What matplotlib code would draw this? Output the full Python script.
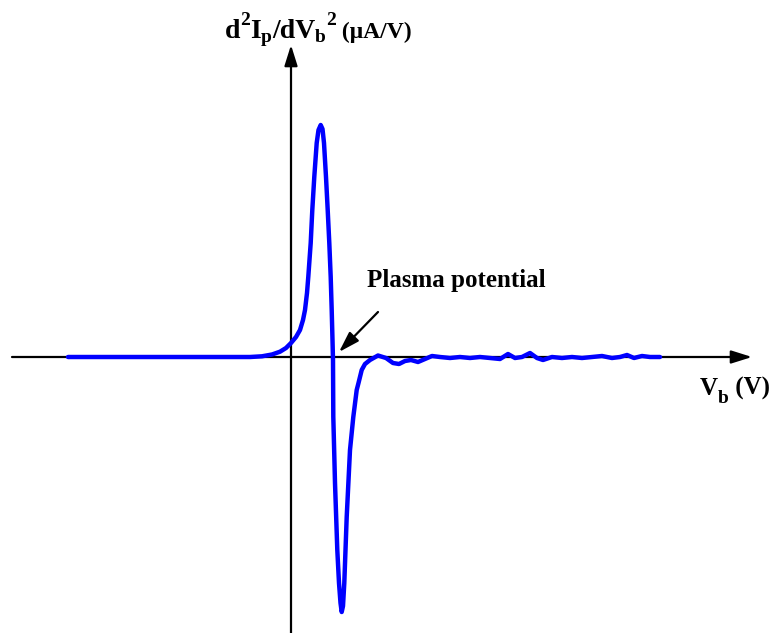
import numpy as np
import matplotlib
matplotlib.use('Agg')
import matplotlib.pyplot as plt
from matplotlib.transforms import IdentityTransform

# Second-derivative probe curve (arbitrary units)
vb = [-11.15, -7.05, -3.55, -2.05, -1.45, -0.95, -0.55, -0.25, 0.0, 0.25, 0.45, 0.6,
      0.7, 0.8, 0.865, 0.985, 1.065, 1.165, 1.285, 1.375, 1.485, 1.575, 1.65, 1.75,
      1.835, 1.915, 1.985, 2.035, 2.075, 2.1, 2.115, 2.2, 2.315, 2.4, 2.475, 2.535,
      2.6, 2.665, 2.785, 2.95, 3.115, 3.285, 3.375, 3.535, 3.7, 3.95, 4.35, 4.75,
      5.1, 5.4, 5.7, 6.0, 6.35, 6.7, 7.05, 7.45, 7.95, 8.45, 8.95, 9.45, 9.95,
      10.45, 10.85, 11.2, 11.55, 11.95, 12.3, 12.6, 13.05, 13.55, 14.05, 14.55,
      15.05, 15.55, 16.05, 16.45, 16.8, 17.15, 17.55, 17.95, 18.45]
d2i = [0, 0, 0, 0, 0.07, 0.25, 0.53, 0.9, 1.4, 2.0, 2.7, 3.7,
       4.7, 6.4, 8.03, 11.4, 14.7, 18.03, 21.4, 22.7, 23.2, 22.8, 21.4, 18.0,
       14.7, 11.4, 8.0, 4.7, 1.7, -0.3, -5.97, -12.6, -19.3, -22.6, -24.6, -25.5,
       -24.9, -22.6, -16.0, -9.3, -6.0, -3.3, -2.6, -1.3, -0.7, -0.3, 0.15, -0.1,
       -0.6, -0.7, -0.4, -0.3, -0.5, -0.2, 0.1, 0, -0.1, 0, -0.1, 0, -0.1,
       -0.2, 0.3, -0.1, 0, 0.4, -0.1, -0.3, 0, -0.1, 0, -0.1,
       0, 0.1, -0.1, 0, 0.2, -0.1, 0.1, 0, 0]

W, H = 773, 633
fig = plt.figure(figsize=(W / 100, H / 100), dpi=100)
ax = fig.add_axes([0, 0, 1, 1])
ax.set_xlim(-14.55, 24.1)
ax.set_ylim(-27.6, 35.7)
ax.axis('off')

arrow_style = '-|>,head_length=0.7,head_width=0.22'
# axes with arrowheads
ax.annotate('', xy=(23.05, 0), xytext=(-13.95, 0),
            arrowprops=dict(arrowstyle=arrow_style, lw=1.6, color='k',
                            mutation_scale=18, shrinkA=0, shrinkB=0))
ax.annotate('', xy=(0, 31.2), xytext=(0, -27.6),
            arrowprops=dict(arrowstyle=arrow_style, lw=1.6, color='k',
                            mutation_scale=18, shrinkA=0, shrinkB=0))

ax.plot(vb, d2i, color='#0000ff', lw=3.2, solid_capstyle='round',
        solid_joinstyle='round', zorder=5)

# annotation
ax.annotate('', xy=(2.4, 0.5), xytext=(4.35, 4.5),
            arrowprops=dict(arrowstyle=arrow_style, lw=1.6, color='k',
                            mutation_scale=18, shrinkA=0, shrinkB=0))

renderer = fig.canvas.get_renderer()


def chain(pieces, x, y):
    # pieces: (text, baseline shift in px, fontsize); x, y in px from top-left
    for s, dy, size in pieces:
        t = fig.text(x, H - y + dy, s, transform=IdentityTransform(),
                     family='Liberation Serif', fontweight='bold',
                     fontsize=size, ha='left', va='baseline')
        x = t.get_window_extent(renderer).x1


chain([('Plasma potential', 0, 18)], 367, 287)

# y label: d2Ip/dVb2 (uA/V)
chain([('d', 0, 20), ('2', 13, 14), ('I', 0, 20), ('p', -4, 14),
       ('/dV', 0, 20), ('b', -4, 14), ('2', 13, 14), (' (μA/V)', 0, 17)], 225, 38)

# x label: Vb (V)
chain([('V', 0, 18), ('b', -8, 14), (' (V)', 0, 18)], 700, 395)

fig.savefig('out.png', dpi=100)
